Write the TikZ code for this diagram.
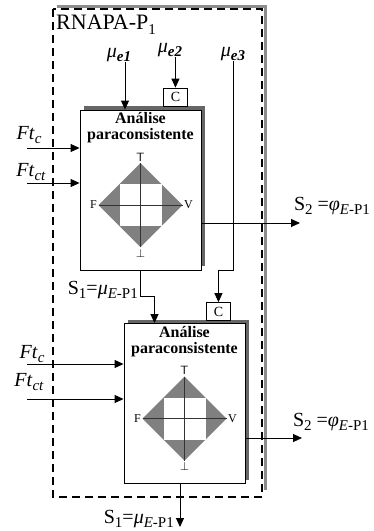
\documentclass[tikz,border=0pt]{standalone}
\usepackage{fontspec}
\setmainfont{Liberation Serif}
\usetikzlibrary{arrows.meta,positioning,shadows}

\definecolor{latgray}{RGB}{128,128,128}

% subscript that follows the size of the label, not of the class
\newcommand{\lsub}[1]{\raisebox{-0.22em}{\fontsize{15}{15}\selectfont #1}}

% lattice diagram drawn inside each analysis block
\tikzset{
    lattice/.pic={
        \fill[latgray] (0,-42) -- (42,0) -- (0,42) -- (-42,0) -- cycle;
        \fill[white] (-21,-21) rectangle (21,21);
        \draw[gray!40!black, line width=0.5pt] (-42,0) -- (42,0) (0,-42) -- (0,42);
        \node[vlab, above] (-top) at (0,-42) {\textsf{T}};
        \node[vlab, below] (-bot) at (0,42) {$\bot$};
        \node[vlab, left] (-f) at (-42,0) {F};
        \node[vlab, right] (-v) at (42,0) {V};
    }
}

\begin{document}
\begin{tikzpicture}[
    x=1pt, y=-1pt,
    lab/.style={inner sep=0pt, font=\fontsize{20}{22}\selectfont},
    pbox/.style={rectangle, draw, fill=white, minimum width=121pt, minimum height=160pt, inner sep=0pt, line width=0.9pt,
        drop shadow={shadow xshift=4pt, shadow yshift=4pt, opacity=1, fill=black!60}},
    cbox/.style={rectangle, draw, fill=white, minimum width=24pt, minimum height=18pt, inner sep=0pt, line width=0.9pt, font=\fontsize{14}{14}\selectfont},
    ptitle/.style={align=center, inner sep=0pt, font=\bfseries\fontsize{16}{16}\selectfont},
    vlab/.style={inner sep=1.5pt, font=\fontsize{12}{12}\selectfont},
    line/.style={draw, line width=0.9pt, -{Triangle[length=9pt, width=8pt]}},
    wire/.style={draw, line width=0.9pt}
]
    \useasboundingbox (0,0) rectangle (374,531);

    % Dashed frame with its shadow
    \draw[black!45, line width=3pt] (57,6.5) -| (265.5,490);
    \draw[line width=1.8pt, dash pattern=on 8pt off 5pt] (53,9) rectangle (262,497);
    \node[anchor=west, inner sep=0pt, font=\fontsize{22}{22}\selectfont] (rn) at (56,25) {RNAPA-P\lsub{1}};

    % First analysis block
    \node[pbox] (an1) at (140.5,190) {};
    \node[ptitle, below=3pt of an1.north] (ti1) {Análise\\paraconsistente};
    \pic (d1) at ([yshift=-15pt]an1.center) {lattice};
    \node[cbox, anchor=south] (c1) at ([xshift=-26pt, yshift=3pt]an1.north east) {C};

    % Second analysis block
    \node[pbox] (an2) at (184.5,403.5) {};
    \node[ptitle, below=3pt of an2.north] (ti2) {Análise\\paraconsistente};
    \pic (d2) at ([yshift=-15pt]an2.center) {lattice};
    \node[cbox, anchor=south] (c2) at ([xshift=-27pt, yshift=2pt]an2.north east) {C};

    % Inputs
    \node[lab] (m1) at (119,55) {\textit{μ}\lsub{\textbf{\textit{e1}}}};
    \node[lab] (m2) at (170,50) {\textit{μ}\lsub{\textbf{\textit{e2}}}};
    \node[lab] (m3) at (233,54) {\textit{μ}\lsub{\textbf{\textit{e3}}}};
    \node[lab] (fa) at (29,135) {\textit{Ft}\lsub{\textit{c}}};
    \node[lab] (fb) at (31,172) {\textit{Ft}\lsub{\textit{ct}}};
    \node[lab] (fc) at (32,354) {\textit{Ft}\lsub{\textit{c}}};
    \node[lab] (fd) at (29,382) {\textit{Ft}\lsub{\textit{ct}}};
    \coordinate (ia) at (27,148);
    \coordinate (ib) at (27,183);
    \coordinate (ic) at (27,364);
    \coordinate (id) at (27,399);

    % Outputs
    \coordinate (oa) at (300,223);
    \coordinate (ob) at (302,438);
    \coordinate (oc) at (180,527);
    \node[lab] (s2a) at (332,206) {S\lsub{2} =\textit{φ}\lsub{\textit{E}-P1}};
    \node[lab] (s2b) at (331,422) {S\lsub{2} =\textit{φ}\lsub{\textit{E}-P1}};
    \node[lab, anchor=east] (s1a) at (138,290) {S\lsub{1}=\textit{μ}\lsub{\textit{E}-P1}};
    \node[lab, anchor=east] (s1b) at (174,519) {S\lsub{1}=\textit{μ}\lsub{\textit{E}-P1}};

    % Connecting lines
    \path[line] ([xshift=6pt]m1.south) -- ([xshift=6pt]m1.south |- an1.north);
    \path[line] (m2.south -| c1.north) -- (c1.north);
    \path[line] (m3.south) -- (m3.south |- an1.south) -| (c2.north);
    \path[line] (ia) -- (ia -| an1.west);
    \path[line] (ib) -- (ib -| an1.west);
    \path[line] (ic) -- (ic -| an2.west);
    \path[line] (id) -- (id -| an2.west);
    \path[line] (oa -| an1.east) -- (oa);
    \path[line] (ob -| an2.east) -- (ob);
    \path[line] (an1.south) -- ++(0,26) -| ([xshift=-30pt]an2.north);
    \path[line] (oc |- an2.south) -- (oc);
\end{tikzpicture}
\end{document}
